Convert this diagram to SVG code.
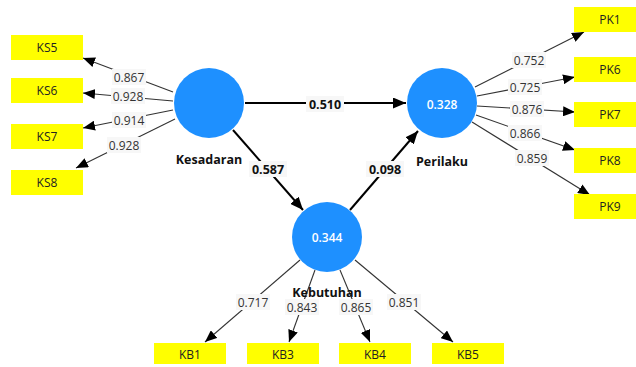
<svg xmlns="http://www.w3.org/2000/svg" width="636" height="367" viewBox="0 0 636 367">
<style>
.lv{fill:#1E90FF;}
.lvt{font-family:"Open Sans","Noto Sans",sans-serif;font-size:12px;font-weight:600;fill:#ffffff;text-anchor:middle;dominant-baseline:central;}
.lvn{font-family:"Open Sans","Noto Sans",sans-serif;font-size:12.5px;font-weight:bold;fill:#111111;text-anchor:middle;dominant-baseline:central;}
.ind{fill:#FFFF00;}
.indt{font-family:"Open Sans","Noto Sans",sans-serif;font-size:12px;fill:#222222;text-anchor:middle;dominant-baseline:central;}
.thin{stroke:#333333;stroke-width:1.1;fill:none;marker-end:url(#ah);}
.thick{stroke:#000000;stroke-width:2;fill:none;marker-end:url(#ahb);}
.lb{fill:#f7f7f7;}
.lt{font-family:"Open Sans","Noto Sans",sans-serif;font-size:12px;fill:#333333;text-anchor:middle;dominant-baseline:central;}
.ltb{font-family:"Open Sans","Noto Sans",sans-serif;font-size:12.5px;font-weight:bold;fill:#111111;text-anchor:middle;dominant-baseline:central;}
</style>
<defs>
<marker id="ah" viewBox="0 0 12 10" refX="12" refY="5" markerWidth="12" markerHeight="10" markerUnits="userSpaceOnUse" orient="auto">
<path d="M0,0 L12,5 L0,10 Z" fill="#000000"/>
</marker>
<marker id="ahb" viewBox="0 0 13 11" refX="13" refY="5.5" markerWidth="13" markerHeight="11" markerUnits="userSpaceOnUse" orient="auto">
<path d="M0,0 L13,5.5 L0,11 Z" fill="#000000"/>
</marker>
</defs>
<rect width="636" height="367" fill="#ffffff"/>

<g id="connectors">
<line class="thick" x1="245" y1="103" x2="406" y2="103"/>
<line class="thick" x1="233" y1="130" x2="303" y2="210"/>
<line class="thick" x1="350" y1="210" x2="418" y2="131"/>
<line class="thin" x1="173" y1="92" x2="83" y2="58"/>
<line class="thin" x1="173" y1="101" x2="83" y2="93"/>
<line class="thin" x1="173" y1="110" x2="83" y2="128"/>
<line class="thin" x1="175" y1="119" x2="76" y2="168"/>
<line class="thin" x1="475" y1="87" x2="584" y2="32"/>
<line class="thin" x1="477" y1="96" x2="575" y2="77"/>
<line class="thin" x1="477" y1="106" x2="575" y2="112"/>
<line class="thin" x1="476" y1="115" x2="575" y2="150"/>
<line class="thin" x1="472" y1="122" x2="590" y2="195"/>
<line class="thin" x1="300" y1="260" x2="205" y2="342"/>
<line class="thin" x1="315" y1="270" x2="289" y2="342"/>
<line class="thin" x1="340" y1="270" x2="370" y2="342"/>
<line class="thin" x1="355" y1="260" x2="453" y2="342"/>
<g id="labels">
<rect class="lb" x="306" y="96" width="38" height="16"/><text class="ltb" x="325" y="104">0.510</text>
<rect class="lb" x="249" y="161" width="38" height="16"/><text class="ltb" x="268" y="169">0.587</text>
<rect class="lb" x="366" y="161" width="38" height="16"/><text class="ltb" x="385" y="169">0.098</text>
<rect class="lb" x="112" y="69" width="34" height="16"/><text class="lt" x="129" y="77">0.867</text>
<rect class="lb" x="111" y="88" width="34" height="16"/><text class="lt" x="128" y="96">0.928</text>
<rect class="lb" x="112" y="112" width="34" height="16"/><text class="lt" x="129" y="120">0.914</text>
<rect class="lb" x="107" y="137" width="34" height="16"/><text class="lt" x="124" y="145">0.928</text>
<rect class="lb" x="512" y="52" width="34" height="16"/><text class="lt" x="529" y="60">0.752</text>
<rect class="lb" x="508" y="79" width="34" height="16"/><text class="lt" x="525" y="87">0.725</text>
<rect class="lb" x="510" y="101" width="34" height="16"/><text class="lt" x="527" y="109">0.876</text>
<rect class="lb" x="508" y="125" width="34" height="16"/><text class="lt" x="525" y="133">0.866</text>
<rect class="lb" x="515" y="150" width="34" height="16"/><text class="lt" x="532" y="158">0.859</text>
<rect class="lb" x="236" y="294" width="34" height="16"/><text class="lt" x="253" y="302">0.717</text>
<rect class="lb" x="285" y="299" width="34" height="16"/><text class="lt" x="302" y="307">0.843</text>
<rect class="lb" x="339" y="299" width="34" height="16"/><text class="lt" x="356" y="307">0.865</text>
<rect class="lb" x="387" y="294" width="34" height="16"/><text class="lt" x="404" y="302">0.851</text>
</g>
</g>

<g id="Kesadaran">
<circle class="lv" cx="209" cy="103" r="35"/>
<text class="lvn" x="209" y="159">Kesadaran</text>
</g>
<g id="Perilaku">
<circle class="lv" cx="442" cy="103" r="35"/>
<text class="lvt" x="442" y="104">0.328</text>
<text class="lvn" x="442" y="161">Perilaku</text>
</g>
<g id="Kebutuhan">
<circle class="lv" cx="327" cy="237" r="35"/>
<text class="lvt" x="327" y="237">0.344</text>
<text class="lvn" x="327" y="292">Kebutuhan</text>
</g>

<g id="KS5"><rect class="ind" x="11" y="35" width="72" height="25"/><text class="indt" x="47" y="47.5">KS5</text></g>
<g id="KS6"><rect class="ind" x="11" y="78" width="72" height="25"/><text class="indt" x="47" y="90.5">KS6</text></g>
<g id="KS7"><rect class="ind" x="11" y="124" width="72" height="25"/><text class="indt" x="47" y="136.5">KS7</text></g>
<g id="KS8"><rect class="ind" x="11" y="170" width="72" height="25"/><text class="indt" x="47" y="182.5">KS8</text></g>

<g id="PK1"><rect class="ind" x="574" y="7" width="72" height="25"/><text class="indt" x="610" y="19.5">PK1</text></g>
<g id="PK6"><rect class="ind" x="574" y="57" width="72" height="25"/><text class="indt" x="610" y="69.5">PK6</text></g>
<g id="PK7"><rect class="ind" x="574" y="102" width="72" height="25"/><text class="indt" x="610" y="114.5">PK7</text></g>
<g id="PK8"><rect class="ind" x="574" y="148" width="72" height="25"/><text class="indt" x="610" y="160.5">PK8</text></g>
<g id="PK9"><rect class="ind" x="574" y="194" width="72" height="25"/><text class="indt" x="610" y="206.5">PK9</text></g>

<g id="KB1"><rect class="ind" x="154" y="343" width="72" height="21"/><text class="indt" x="190" y="354">KB1</text></g>
<g id="KB3"><rect class="ind" x="247" y="343" width="72" height="21"/><text class="indt" x="283" y="354">KB3</text></g>
<g id="KB4"><rect class="ind" x="339" y="343" width="72" height="21"/><text class="indt" x="375" y="354">KB4</text></g>
<g id="KB5"><rect class="ind" x="432" y="343" width="72" height="21"/><text class="indt" x="468" y="354">KB5</text></g>
</svg>
